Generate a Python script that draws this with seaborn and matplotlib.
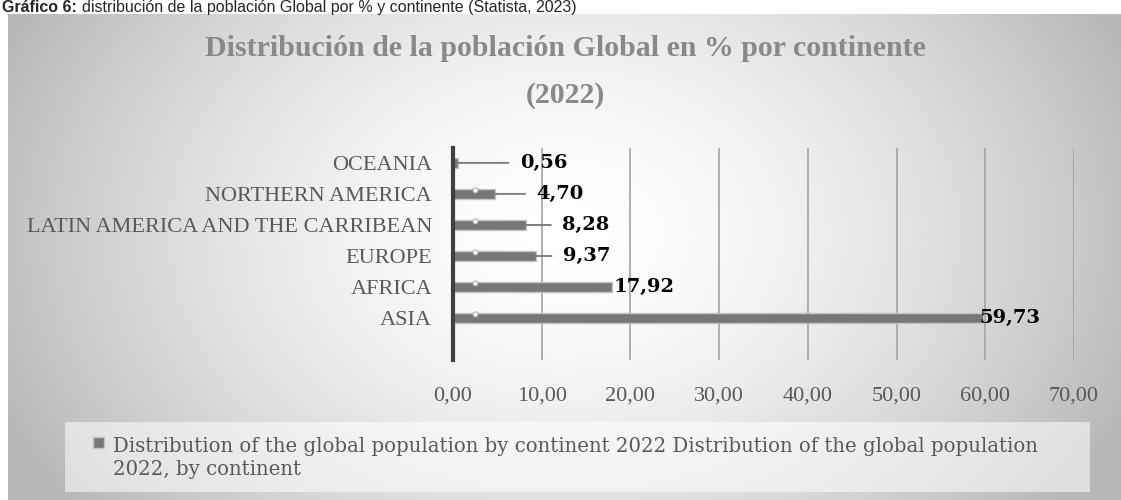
import numpy as np
import pandas as pd
import seaborn as sns
import matplotlib.pyplot as plt
from matplotlib.patches import Rectangle
from matplotlib.ticker import FuncFormatter

# Data
continents = ['OCEANIA', 'NORTHERN AMERICA', 'LATIN AMERICA AND THE CARRIBEAN',
              'EUROPE', 'AFRICA', 'ASIA']
shares = [0.56, 4.70, 8.28, 9.37, 17.92, 59.73]
x_ticks = [0, 10, 20, 30, 40, 50, 60, 70]
series_name = ('Distribution of the global population by continent 2022 '
               'Distribution of the global population\n2022, by continent')
title = 'Distribución de la población Global en % por continente\n(2022)'

df = pd.DataFrame({'continent': continents, 'share': shares})

# label gap from bar end (pixels), like the excel leader lines
label_gap = [62, 42, 36, 27, 2, -4]

sns.set_style('white')
plt.rcParams['font.family'] = ['Liberation Serif', 'DejaVu Serif']

W, H = 1121, 500
fig = plt.figure(figsize=(W / 100, H / 100), dpi=100)

# Gradient background of the chart area
bg = fig.add_axes([8 / W, 0, 1 - 8 / W, 1 - 14 / H], zorder=-10)
gx, gy = np.meshgrid(np.linspace(0, 1, 400), np.linspace(0, 1, 200))
d = np.sqrt(((gx - 0.5) / 0.55) ** 2 + ((gy - 0.45) / 0.95) ** 2)
shade = 1 - 0.28 * np.clip(d, 0, 1) ** 1.6
bg.imshow(shade, cmap='gray', vmin=0, vmax=1, aspect='auto',
          extent=[0, 1, 0, 1], interpolation='bilinear')
bg.axis('off')

# Main axes
ax = fig.add_axes([453 / W, 1 - 360 / H, (1074 - 453) / W, (360 - 148) / H])
ax.patch.set_alpha(0)
sns.barplot(data=df, x='share', y='continent', orient='h', color='#777777',
            saturation=1, edgecolor='#c4c4c4', linewidth=1, width=0.33, ax=ax)

ax.set_xlim(0, 70)
ax.set_ylim(6.35, -0.48)
ax.set_xticks(x_ticks)
ax.xaxis.set_major_formatter(FuncFormatter(lambda v, p: f'{v:.2f}'.replace('.', ',')))
ax.set_xlabel('')
ax.set_ylabel('')
ax.xaxis.grid(True, color='#a3a3a3', lw=1.2)
ax.set_axisbelow(True)
for s in ['top', 'right', 'bottom']:
    ax.spines[s].set_visible(False)
ax.spines['left'].set_color('#404040')
ax.spines['left'].set_linewidth(3)
ax.tick_params(axis='both', length=0, labelsize=16, colors='#595959')
ax.tick_params(axis='x', pad=19)
ax.tick_params(axis='y', pad=15)

# small white markers on the bars
dot_y = [i - 0.14 for i, v in enumerate(shares) if v > 3]
ax.scatter([2.5] * len(dot_y), dot_y, s=14, facecolor='white',
           edgecolor='#9a9a9a', linewidth=0.6, zorder=5)

# Data labels with leader lines
for i, (v, g) in enumerate(zip(shares, label_gap)):
    arrow = dict(arrowstyle='-', color='#7f7f7f', lw=1.4, shrinkA=6, shrinkB=0) if g > 10 else None
    ax.annotate(f'{v:.2f}'.replace('.', ','), xy=(v, i), xytext=(g, 0),
                textcoords='offset pixels', ha='left', va='center',
                fontsize=14, fontweight='bold', color='black',
                family='DejaVu Serif', arrowprops=arrow, zorder=6)

# Title
fig.text(565 / W, 1 - 72 / H, title, ha='center', va='center', fontsize=21.5,
         fontweight='bold', color='#898989', linespacing=1.95)

# Legend box (drawn by hand so the key sits on the first line)
fig.patches.append(Rectangle((65 / W, 1 - 492 / H), (1090 - 65) / W, 70 / H,
                             transform=fig.transFigure, facecolor='white',
                             alpha=0.55, edgecolor='none', zorder=-5))
fig.patches.append(Rectangle((93 / W, 1 - 448 / H), 11 / W, 11 / H,
                             transform=fig.transFigure, facecolor='#777777',
                             edgecolor='#c4c4c4', lw=1))
fig.text(113 / W, 1 - 475 / H, series_name, ha='left', va='baseline',
         fontsize=14.2, color='#595959', family='DejaVu Serif', linespacing=1.25)

# Header caption
r = fig.canvas.get_renderer()
t1 = fig.text(0.002, 1 - 12 / H, 'Gráfico 6: ', family='Liberation Sans',
              fontweight='bold', fontsize=11.5, va='baseline', ha='left')
bb = t1.get_window_extent(renderer=r)
fig.text(bb.x1 / W, 1 - 12 / H,
         'distribución de la población Global por % y continente (Statista, 2023)',
         family='Liberation Sans', fontsize=11.5, va='baseline', ha='left')

fig.savefig('out.png', dpi=100)
